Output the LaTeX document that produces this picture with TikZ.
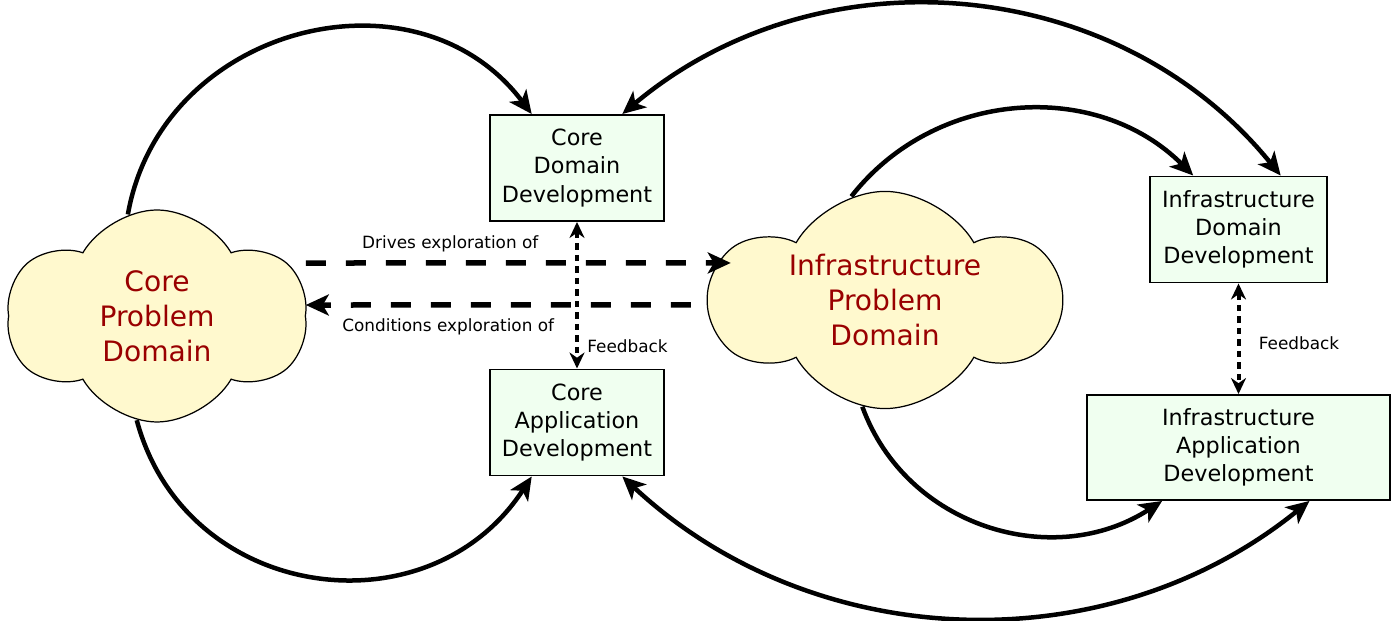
\documentclass[tikz,border=0pt]{standalone}
\usepackage{fontspec}
\setmainfont{DejaVu Sans}
\usetikzlibrary{arrows.meta,shapes.symbols,positioning}
\definecolor{boxgreen}{RGB}{240,255,240}
\definecolor{cloudyellow}{RGB}{255,249,206}
\definecolor{probred}{RGB}{153,0,0}
\tikzstyle{devbox} = [draw, rectangle, line width=1.1pt, fill=boxgreen, align=center, font=\fontsize{12.7}{16}\selectfont, minimum width=3.48cm, minimum height=2.12cm]
\tikzstyle{problem} = [draw, cloud, cloud puffs=6, cloud puff arc=120, fill=cloudyellow, text=probred, align=center, font=\fontsize{16}{20}\selectfont, line width=0.7pt, inner sep=0pt]
\tikzstyle{flow} = [->, line width=0.09cm]
\tikzstyle{bothflow} = [<->, line width=0.09cm]
\tikzstyle{explore} = [->, line width=0.11cm, dash pattern=on 0.4cm off 0.4cm]
\tikzstyle{feedback} = [<->, line width=0.08cm, dash pattern=on 0.13cm off 0.1cm, >={Stealth[length=0.32cm, width=0.3cm]}]
\tikzstyle{note} = [font=\fontsize{9.6}{11}\selectfont]

\begin{document}
\begin{tikzpicture}[>={Stealth[length=0.46cm, width=0.42cm, inset=0.12cm]}]
\useasboundingbox (0,0) rectangle (27.82,12.42);

\node [problem, minimum width=5.98cm, minimum height=4.24cm] (core) at (3.14,6.10) {Core\\Problem\\Domain};
\node [devbox, right of=core, node distance=8.4cm, yshift=2.96cm] (cdd) {Core\\Domain\\Development};
\node [devbox, below of=cdd, node distance=5.09cm] (cad) {Core\\Application\\Development};

\node [problem, aspect=1.7, minimum width=6.92cm, minimum height=4.3cm] (infra) at (17.70,6.42) {Infrastructure\\Problem\\Domain};
\node [devbox, right of=infra, node distance=7.07cm, yshift=1.41cm, minimum width=3.54cm] (idd) {Infrastructure\\Domain\\Development};
\node [devbox, below of=idd, node distance=4.36cm, minimum width=6.06cm, minimum height=2.1cm] (iad) {Infrastructure\\Application\\Development};

% problem domains drive development
\draw [flow] (core.106) to[out=80, in=127, looseness=1.18] (cdd.130);
\draw [flow] (core.259) to[out=-75, in=-123, looseness=1.21] (cad.230);
\draw [flow] (infra.108) to[out=52, in=135, looseness=1.02] (idd.130);
\draw [flow] (infra.258) to[out=-70, in=-147, looseness=1.05] (iad.215);

% between core and infrastructure
\draw [bothflow] (cdd.50) to[out=40, in=129, looseness=1.0] (idd.52);
\draw [bothflow] (cad.-50) to[out=-43, in=-141, looseness=0.97] (iad.-37);

\draw [explore] ([yshift=1.06cm]core.east) -- node [note, above, pos=0.34, yshift=0.05cm] {Drives exploration of} ([xshift=0.48cm, yshift=0.74cm]infra.west);
\draw [explore] ([xshift=-0.32cm, yshift=-0.1cm]infra.west) -- node [note, below, pos=0.63, yshift=-0.1cm] {Conditions exploration of} ([yshift=0.22cm]core.east);

\draw [feedback] (cdd.south) -- node [note, right, pos=0.85, xshift=0.05cm] {Feedback} (cad.north);
\draw [feedback] (idd.south) -- node [note, right, pos=0.54, xshift=0.25cm] {Feedback} (iad.north);
\end{tikzpicture}
\end{document}
